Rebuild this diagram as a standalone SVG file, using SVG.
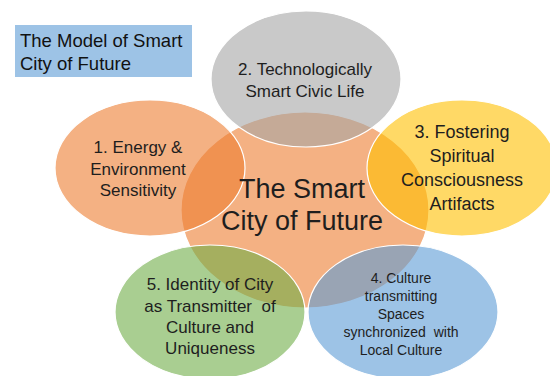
<svg xmlns="http://www.w3.org/2000/svg" width="550" height="376" viewBox="0 0 550 376">
<style>
.e{stroke:#ffffff;stroke-width:1.2;fill-opacity:0.6}
.t{font-family:"Liberation Sans",Arial,sans-serif;fill:#1e1e1e;text-anchor:middle}
.ti{font-family:"Liberation Sans",Arial,sans-serif;fill:#111111;font-size:18.5px}
</style>
<rect width="550" height="376" fill="#ffffff"/>
<g id="title">
<rect x="15" y="25" width="177" height="52" fill="#9DC3E6"/>
<text class="ti" x="20" y="47">The Model of Smart</text>
<text class="ti" x="20" y="70">City of Future</text>
</g>
<g id="connectors"></g>
<g id="center">
<ellipse class="e" cx="305" cy="210" rx="124" ry="98" fill="#ED7D31"/>
</g>
<g id="node1">
<ellipse class="e" cx="150" cy="168" rx="95" ry="68" fill="#ED7D31"/>
<text class="t" font-size="17" x="138" y="153">1. Energy &amp;</text>
<text class="t" font-size="17" x="138" y="175">Environment</text>
<text class="t" font-size="17" x="138" y="196">Sensitivity</text>
</g>
<g id="node2">
<ellipse class="e" cx="306" cy="79" rx="95" ry="68" fill="#A5A5A5"/>
<text class="t" font-size="17" x="305" y="75">2. Technologically</text>
<text class="t" font-size="17" x="305" y="97">Smart Civic Life</text>
</g>
<g id="node3">
<ellipse class="e" cx="462" cy="168" rx="95" ry="68" fill="#FFC000"/>
<text class="t" font-size="18" x="462" y="138">3. Fostering</text>
<text class="t" font-size="18" x="462" y="162">Spiritual</text>
<text class="t" font-size="18" x="462" y="186">Consciousness</text>
<text class="t" font-size="18" x="462" y="210">Artifacts</text>
</g>
<g id="node4">
<ellipse class="e" cx="403" cy="312" rx="95" ry="67" fill="#5B9BD5"/>
<text class="t" font-size="14" x="401" y="283">4. Culture</text>
<text class="t" font-size="14" x="401" y="301">transmitting</text>
<text class="t" font-size="14" x="401" y="319">Spaces</text>
<text class="t" font-size="14" x="401" y="337" xml:space="preserve">synchronized  with</text>
<text class="t" font-size="14" x="401" y="355">Local Culture</text>
</g>
<g id="node5">
<ellipse class="e" cx="210" cy="312" rx="95" ry="67" fill="#70AD47"/>
<text class="t" font-size="17" x="210" y="290">5. Identity of City</text>
<text class="t" font-size="17" x="210" y="312" xml:space="preserve">as Transmitter  of</text>
<text class="t" font-size="17" x="210" y="333">Culture and</text>
<text class="t" font-size="17" x="210" y="354">Uniqueness</text>
</g>
<g id="center-label">
<text class="t" font-size="27" x="302" y="198">The Smart</text>
<text class="t" font-size="27" x="302" y="230">City of Future</text>
</g>
</svg>
